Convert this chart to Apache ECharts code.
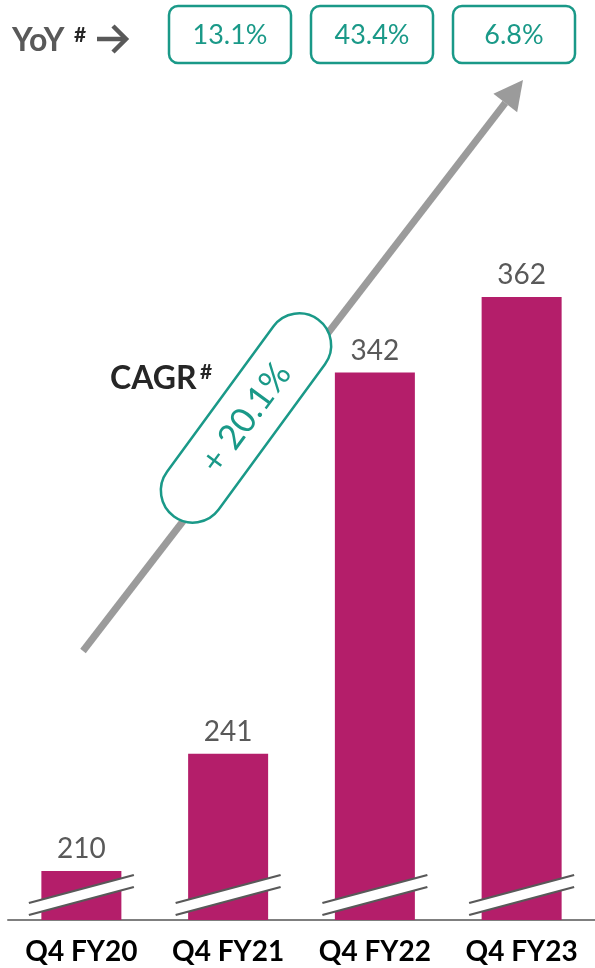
<!DOCTYPE html>
<html>
<head>
<meta charset="utf-8">
<script src="https://cdn.jsdelivr.net/npm/echarts@6/dist/echarts.min.js"></script>
<style>
  html, body { margin: 0; padding: 0; background: #ffffff; }
  #chart { width: 595px; height: 968px; }
</style>
</head>
<body>
<div id="chart"></div>
<script>
// Quarterly figures
const categories = ['Q4 FY20', 'Q4 FY21', 'Q4 FY22', 'Q4 FY23'];
const values = [210, 241, 342, 362];
// Year-on-year growth shown in the boxes along the top
const yoyLabels = ['13.1%', '43.4%', '6.8%'];
const cagrLabel = '+ 20.1%';

// Value axis starts above zero; bars carry a break mark near the base
const axisMin = 197;
const axisMax = 400;

const FONT = 'Lato, "Open Sans", "DejaVu Sans", sans-serif';
const BAR = '#B41E6A';
const TEAL = '#1A9988';
const GREY_TEXT = '#595959';
const ARROW = '#9B9B9B';

const chart = echarts.init(document.getElementById('chart'), null, { renderer: 'canvas' });

// YoY boxes
const yoyBoxX = [169, 311, 453];
const yoyGraphics = yoyLabels.map((t, i) => ({
  type: 'group',
  x: yoyBoxX[i],
  y: 6,
  children: [
    {
      type: 'rect',
      shape: { x: 0, y: 0, width: 122, height: 57, r: 9 },
      style: { fill: '#ffffff', stroke: TEAL, lineWidth: 2.5 }
    },
    {
      type: 'text',
      x: 61,
      y: 29,
      style: {
        text: t, fill: TEAL, fontSize: 27, fontFamily: FONT,
        align: 'center', verticalAlign: 'middle'
      }
    }
  ]
}));

// Growth arrow running up through the chart
const tail = [83, 651];
const tip = [523, 80];
const dx = tip[0] - tail[0], dy = tip[1] - tail[1];
const len = Math.sqrt(dx * dx + dy * dy);
const ux = dx / len, uy = dy / len;
const headLen = 29, headHalf = 15;
const base = [tip[0] - headLen * ux, tip[1] - headLen * uy];
const nx = -uy, ny = ux;

const option = {
  animation: false,
  backgroundColor: '#ffffff',
  grid: { left: 8, top: 153.5, width: 589.5, bottom: 48, containLabel: false },
  xAxis: {
    type: 'category',
    data: categories,
    axisLine: { show: true, lineStyle: { color: '#7F7F7F', width: 2 } },
    axisTick: { show: false },
    axisLabel: {
      interval: 0, hideOverlap: false,
      color: '#000000', fontSize: 28, fontWeight: 'bold', fontFamily: FONT, margin: 18
    },
    splitLine: { show: false }
  },
  yAxis: {
    type: 'value',
    min: axisMin,
    max: axisMax,
    show: false,
    splitLine: { show: false }
  },
  series: [
    {
      type: 'bar',
      data: values,
      barWidth: 80,
      itemStyle: { color: BAR },
      label: {
        show: true, position: 'top', distance: 8,
        color: GREY_TEXT, fontSize: 28, fontFamily: FONT
      },
      z: 2
    },
    {
      // Break marks drawn across the foot of each bar
      type: 'custom',
      data: values.map((v, i) => [i, v]),
      z: 3,
      silent: true,
      renderItem: function (params, api) {
        const p = api.coord([api.value(0), axisMin]);
        const cx = p[0], cy = p[1] - 25;
        const hx = 52.5, rise = 14, gap = 6;
        const upper = [[cx - hx, cy + rise - gap], [cx + hx, cy - rise - gap]];
        const lower = [[cx - hx, cy + rise + gap], [cx + hx, cy - rise + gap]];
        return {
          type: 'group',
          children: [
            {
              type: 'polygon',
              shape: { points: [upper[0], upper[1], lower[1], lower[0]] },
              style: { fill: '#ffffff' }
            },
            {
              type: 'line',
              shape: { x1: upper[0][0], y1: upper[0][1], x2: upper[1][0], y2: upper[1][1] },
              style: { stroke: '#595959', lineWidth: 2.3 }
            },
            {
              type: 'line',
              shape: { x1: lower[0][0], y1: lower[0][1], x2: lower[1][0], y2: lower[1][1] },
              style: { stroke: '#595959', lineWidth: 2.3 }
            }
          ]
        };
      }
    }
  ],
  graphic: [
    // "YoY#  →" heading
    {
      type: 'text', x: 12, y: 41,
      style: {
        text: 'YoY', fill: GREY_TEXT, fontSize: 32, fontWeight: 'bold', fontFamily: FONT,
        align: 'left', verticalAlign: 'middle'
      }
    },
    {
      type: 'text', x: 74, y: 35,
      style: {
        text: '#', fill: '#262626', fontSize: 21, fontWeight: 'bold', fontFamily: FONT,
        align: 'left', verticalAlign: 'middle'
      }
    },
    {
      type: 'polyline',
      shape: { points: [[97, 39], [126, 39]] },
      style: { stroke: GREY_TEXT, lineWidth: 4.5 }
    },
    {
      type: 'polyline',
      shape: { points: [[113, 26], [126, 39], [113, 52]] },
      style: { stroke: GREY_TEXT, lineWidth: 4.5, fill: null, lineJoin: 'miter' }
    },
    ...yoyGraphics,
    // Growth arrow
    {
      type: 'line',
      shape: { x1: tail[0], y1: tail[1], x2: base[0], y2: base[1] },
      style: { stroke: ARROW, lineWidth: 7 },
      z: 10
    },
    {
      type: 'polygon',
      shape: {
        points: [
          tip,
          [base[0] + headHalf * nx, base[1] + headHalf * ny],
          [base[0] - headHalf * nx, base[1] - headHalf * ny]
        ]
      },
      style: { fill: ARROW },
      z: 10
    },
    // CAGR heading
    {
      type: 'text', x: 110, y: 379,
      style: {
        text: 'CAGR', fill: '#262626', fontSize: 32, fontWeight: 'bold', fontFamily: FONT,
        align: 'left', verticalAlign: 'middle'
      },
      z: 11
    },
    {
      type: 'text', x: 200, y: 372,
      style: {
        text: '#', fill: '#262626', fontSize: 21, fontWeight: 'bold', fontFamily: FONT,
        align: 'left', verticalAlign: 'middle'
      },
      z: 11
    },
    // CAGR pill laid along the arrow
    {
      type: 'group',
      x: 246,
      y: 418,
      rotation: 53.8 * Math.PI / 180,
      z: 12,
      children: [
        {
          type: 'rect',
          shape: { x: -122, y: -32, width: 244, height: 64, r: 32 },
          style: { fill: '#ffffff', stroke: TEAL, lineWidth: 2.5 },
          z: 12
        },
        {
          type: 'text',
          x: 0, y: 0,
          style: {
            text: cagrLabel, fill: TEAL, fontSize: 35, fontFamily: FONT,
            align: 'center', verticalAlign: 'middle'
          },
          z: 13
        }
      ]
    }
  ]
};

chart.setOption(option);
</script>
</body>
</html>
